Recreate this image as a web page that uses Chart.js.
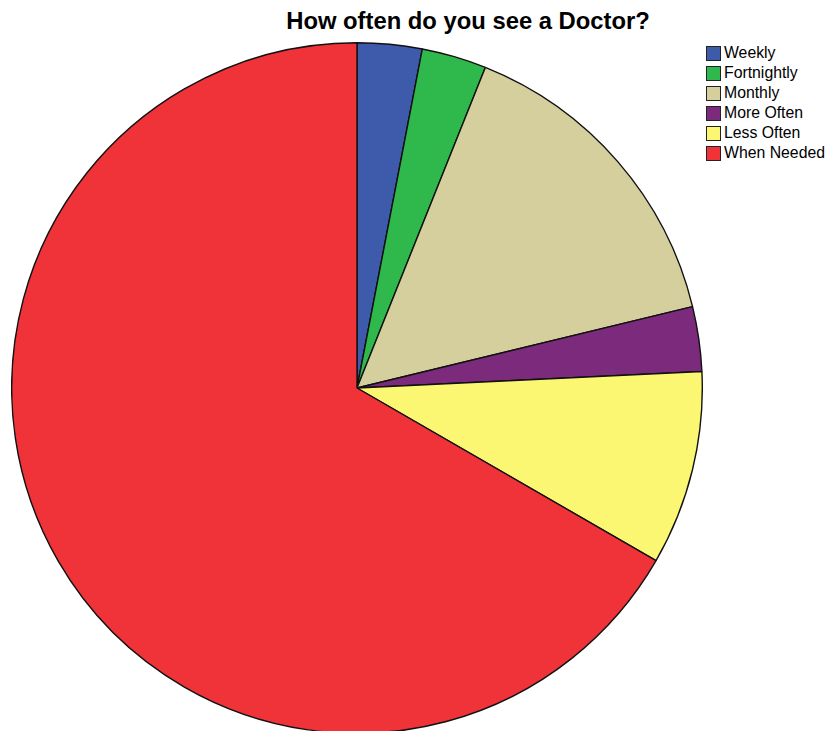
<!DOCTYPE html>
<html>
<head>
<meta charset="utf-8">
<script src="https://cdn.jsdelivr.net/npm/chart.js@4"></script>
<style>
  html, body { margin: 0; padding: 0; background: #fff; overflow: hidden; }
  body { width: 831px; height: 731px; position: relative; font-family: "Liberation Sans", Arial, sans-serif; }
  #title { position: absolute; left: 0; width: 936px; top: 7px; text-align: center; font-size: 23.8px; font-weight: bold; color: #000; }
  #pieWrap { position: absolute; left: 11px; top: 42px; width: 692px; height: 692px; }
  #legend { position: absolute; left: 706px; top: 43px; font-size: 15.8px; color: #000; }
  .item { height: 20px; display: flex; align-items: center; }
  .swatch { width: 15px; height: 15px; box-sizing: border-box; border: 1px solid #222; margin-right: 3px; }
</style>
</head>
<body>
<div id="title">How often do you see a Doctor?</div>
<div id="pieWrap"><canvas id="doctorChart"></canvas></div>
<div id="legend"></div>
<script>
const categories = ['Weekly', 'Fortnightly', 'Monthly', 'More Often', 'Less Often', 'When Needed'];
const counts = [1, 1, 5, 1, 3, 22];
const sliceColors = ['#3d5aab', '#2fb84b', '#d4cf9c', '#7c2a7c', '#fbf772', '#ef3339'];

document.addEventListener('DOMContentLoaded', () => {
    const ctx = document.getElementById('doctorChart').getContext('2d');
    new Chart(ctx, {
        type: 'pie',
        data: {
            labels: categories,
            datasets: [{
                data: counts,
                backgroundColor: sliceColors,
                borderColor: '#111',
                borderWidth: 1.4
            }]
        },
        options: {
            responsive: true,
            maintainAspectRatio: false,
            animation: false,
            layout: { padding: 0 },
            plugins: {
                legend: { display: false },
                tooltip: { enabled: false }
            }
        }
    });

    // Legend built from the same category list
    const legend = document.getElementById('legend');
    categories.forEach((name, i) => {
        const row = document.createElement('div');
        row.className = 'item';
        const box = document.createElement('span');
        box.className = 'swatch';
        box.style.background = sliceColors[i];
        const label = document.createElement('span');
        label.textContent = name;
        row.appendChild(box);
        row.appendChild(label);
        legend.appendChild(row);
    });
});
</script>
</body>
</html>
